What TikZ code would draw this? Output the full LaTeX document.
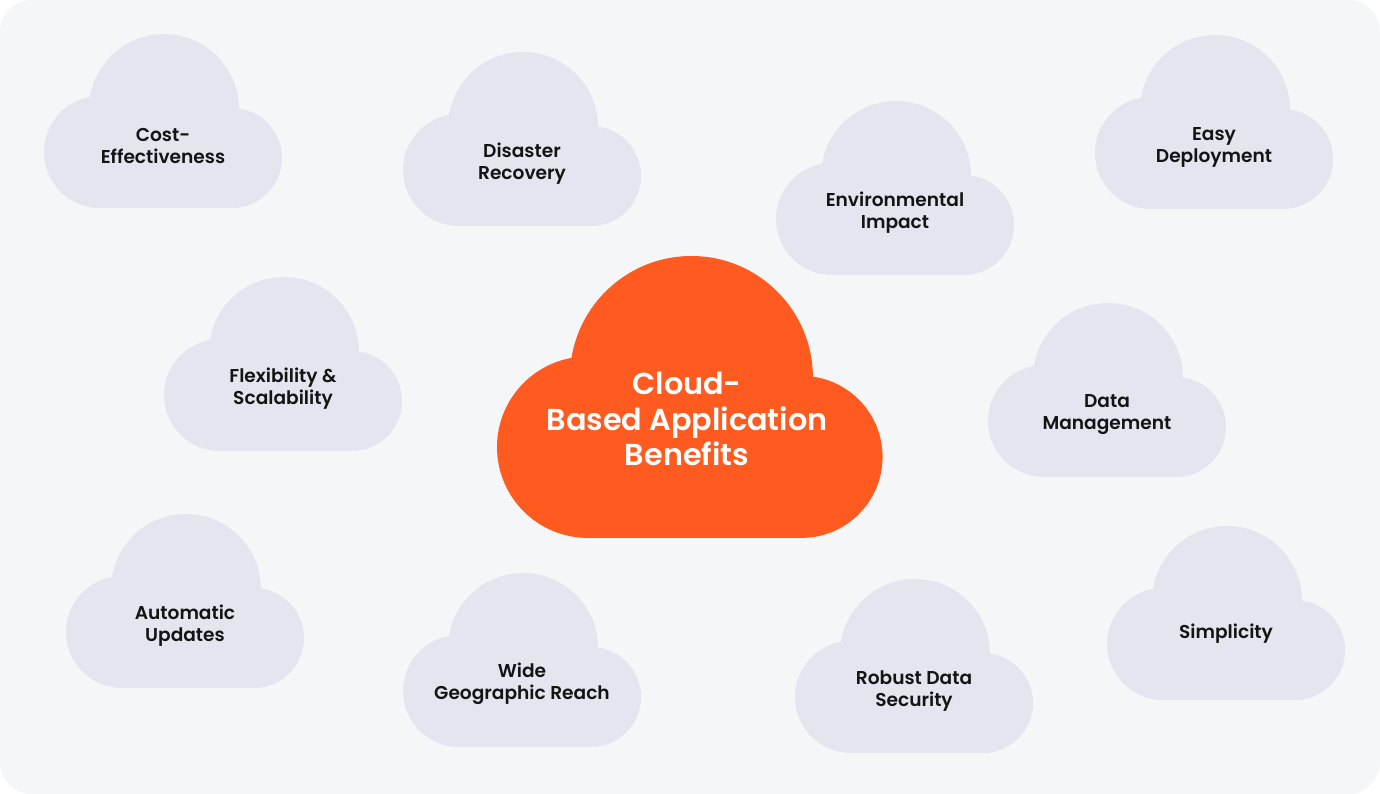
\documentclass[tikz,border=0pt]{standalone}
\usepackage{fontspec}
\setmainfont{Poppins}[BoldFont={Poppins SemiBold}]
\definecolor{bgc}{HTML}{F5F6F8}
\definecolor{cloudc}{HTML}{E5E5F0}
\definecolor{orangec}{HTML}{FF5A1F}
\definecolor{ink}{HTML}{141414}
\newcommand\drawcloud[4]{%
  \begin{scope}[shift={(#1,#2)},scale=#3]
    \fill[#4] (120,75) circle (75);
    \fill[#4] (56,118) circle (56);
    \fill[#4] (188,124) circle (50);
    \fill[#4] (56,75) rectangle (188,174);
  \end{scope}}
\tikzset{
  lbl/.style={font=\fontsize{18.6}{22}\selectfont\bfseries, align=center, text=ink, inner sep=0pt},
  biglbl/.style={font=\fontsize{30.3}{35.5}\selectfont\bfseries, align=center, text=white, inner sep=0pt}
}
\begin{document}
\begin{tikzpicture}[x=1pt,y=-1pt]
  \useasboundingbox (0,0) rectangle (1380,794);
  \fill[white] (0,0) rectangle (1380,794);
  \fill[bgc, rounded corners=32pt] (0,0) rectangle (1380,794);
  % clouds
  \drawcloud{44}{34}{1}{cloudc}
  \drawcloud{403}{52}{1}{cloudc}
  \drawcloud{776}{101}{1}{cloudc}
  \drawcloud{1095}{35}{1}{cloudc}
  \drawcloud{164}{277}{1}{cloudc}
  \drawcloud{988}{303}{1}{cloudc}
  \drawcloud{66}{514}{1}{cloudc}
  \drawcloud{403}{573}{1}{cloudc}
  \drawcloud{795}{579}{1}{cloudc}
  \drawcloud{1107}{526}{1}{cloudc}
  \drawcloud{497}{256}{1.62}{orangec}
  % labels
  \node[lbl] (cost) at (163,146) {Cost-\\Effectiveness};
  \node[lbl] (disaster) at (522,164) {Disaster\\Recovery};
  \node[lbl] (env) at (895,213) {Environmental\\Impact};
  \node[lbl] (easy) at (1214,147) {Easy\\Deployment};
  \node[lbl] (flex) at (283,389) {Flexibility \&\\Scalability};
  \node[lbl] (data) at (1107,415) {Data\\Management};
  \node[lbl] (auto) at (185,626) {Automatic\\Updates};
  \node[lbl] (wide) at (522,684) {Wide\\Geographic Reach};
  \node[lbl] (robust) at (914,691) {Robust Data\\Security};
  \node[lbl] (simp) at (1226,634) {Simplicity};
  \node[biglbl] (main) at (687,419) {Cloud-\\Based Application\\Benefits};
\end{tikzpicture}
\end{document}
